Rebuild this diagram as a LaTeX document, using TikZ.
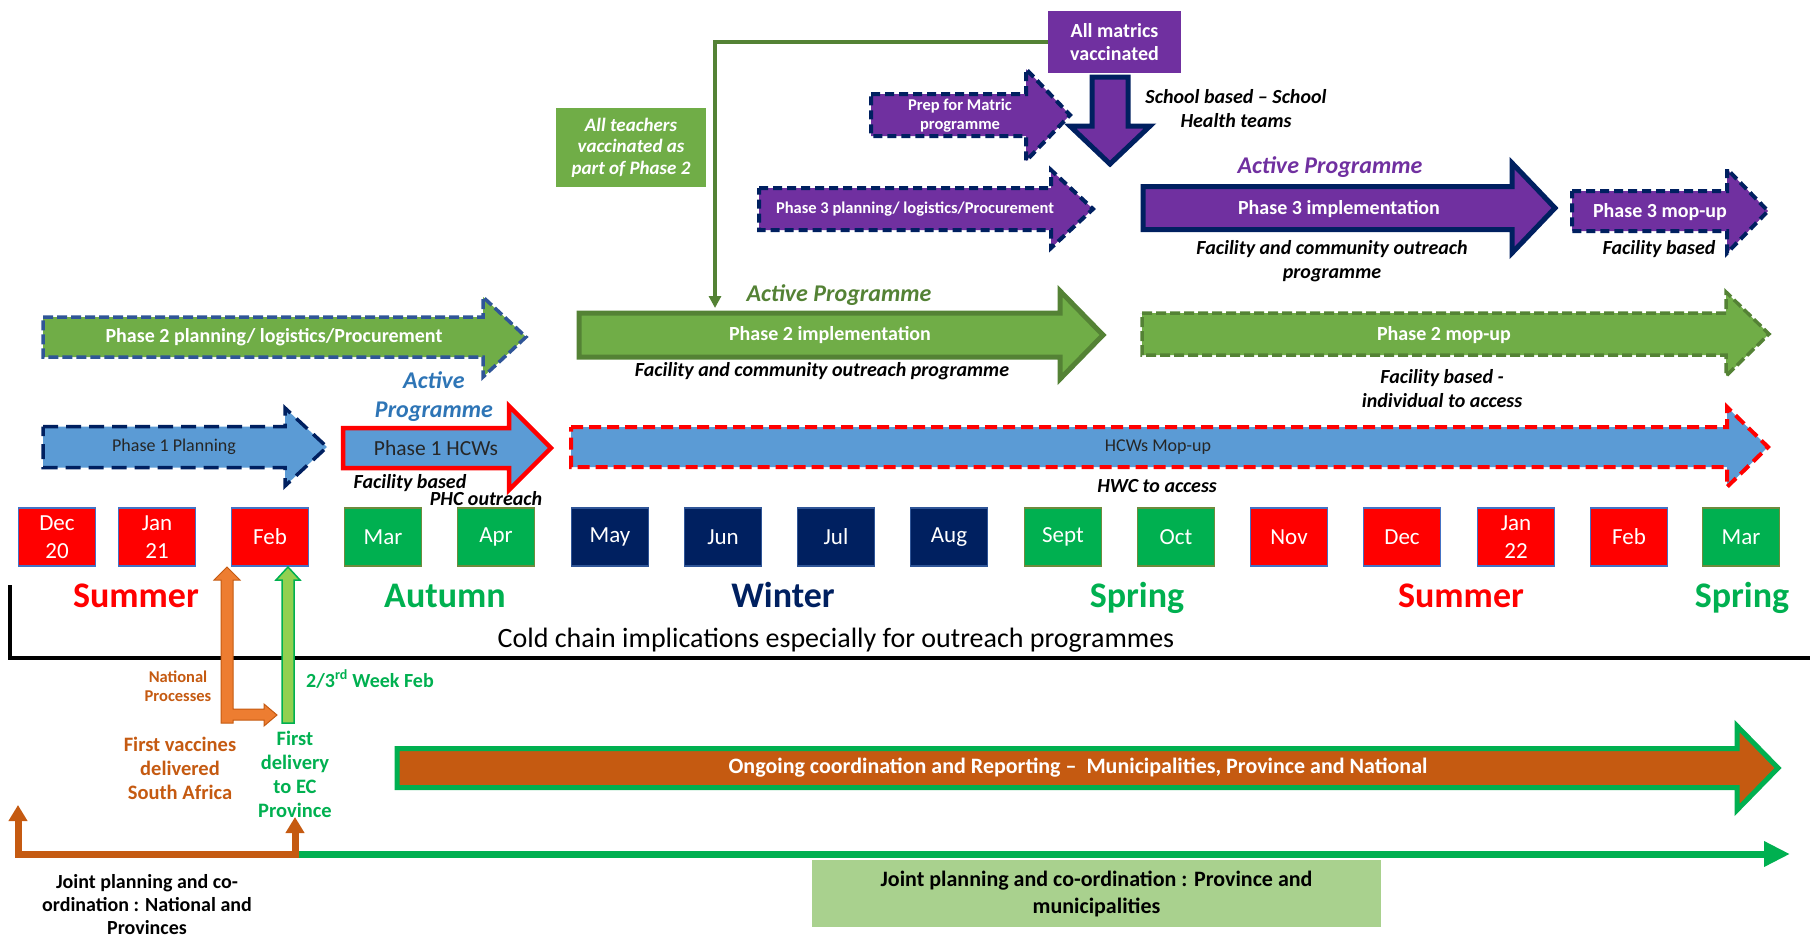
\documentclass[tikz,border=0pt]{standalone}
\usepackage{fontspec}
\setmainfont{Carlito}
\usetikzlibrary{arrows.meta}
\definecolor{mred}{HTML}{FF0000}
\definecolor{mgreen}{HTML}{00B050}
\definecolor{mnavy}{HTML}{002060}
\definecolor{redge}{HTML}{4472C4}
\definecolor{gedge}{HTML}{6E8B3D}
\definecolor{nedge}{HTML}{2F5597}
\definecolor{p1blue}{HTML}{5B9BD5}
\definecolor{p2green}{HTML}{70AD47}
\definecolor{p2dark}{HTML}{548235}
\definecolor{p2blue}{HTML}{2F5597}
\definecolor{p3purple}{HTML}{7030A0}
\definecolor{activeblue}{HTML}{2E75B6}
\definecolor{vorange}{HTML}{ED7D31}
\definecolor{orgdark}{HTML}{C55A11}
\definecolor{vlight}{HTML}{92D050}
\definecolor{palegreen}{HTML}{A9D18E}
\definecolor{txtdark}{HTML}{262626}

% block arrow: style, left x, head base x, tip x, mid y, shaft half, head half
\newcommand{\phasearrow}[7]{%
  \path[#1] (#2,#5-#6) -- (#3,#5-#6) -- (#3,#5-#7) -- (#4,#5) -- (#3,#5+#7) -- (#3,#5+#6) -- (#2,#5+#6) -- cycle;}

\begin{document}
\begin{tikzpicture}[x=1pt, y=-1pt, line join=miter,
    month/.style={rectangle, minimum width=77, minimum height=58, inner sep=0, line width=1.5, text=white, align=center, font=\fontsize{23}{27.5}\selectfont},
    season/.style={anchor=base, font=\fontsize{36}{40}\selectfont\bfseries},
    barlabel/.style={text=white, align=center, font=\fontsize{20}{24}\selectfont\bfseries},
    plainlabel/.style={text=txtdark, font=\fontsize{18}{22}\selectfont},
    note/.style={align=center, font=\fontsize{20}{24}\selectfont\bfseries\itshape},
    active/.style={align=center, font=\fontsize{24}{29}\selectfont\bfseries\itshape},
    navydash/.style={fill=p3purple, draw=mnavy, line width=4, dash pattern=on 9pt off 5pt}]
  \useasboundingbox (0,0) rectangle (1810,937);

  % Phase 3 row
  \phasearrow{navydash}{871}{1026}{1070}{115}{21}{46}
  \node[barlabel, font=\fontsize{16.5}{19}\selectfont\bfseries] (prep) at (960,115.5) {Prep for Matric\\programme};
  \phasearrow{navydash}{759}{1051}{1093}{209}{21}{39}
  \node[barlabel, font=\fontsize{16.5}{19}\selectfont\bfseries] (p3plan) at (915,209) {Phase 3 planning/ logistics/Procurement};
  \phasearrow{fill=p3purple, draw=mnavy, line width=5}{1143}{1512}{1555}{208}{21.5}{45}
  \node[barlabel] (p3impl) at (1339,209) {Phase 3 implementation};
  \node[active, text=p3purple] (p3active) at (1330,167) {Active Programme};
  \node[note] (p3note) at (1332,261) {Facility and community outreach\\programme};
  \phasearrow{navydash}{1572}{1727}{1768}{211}{20}{42}
  \node[barlabel] (p3mop) at (1660,212) {Phase 3 mop-up};
  \node[note] (p3mopnote) at (1659,249) {Facility based};

  % Matrics
  \node[fill=p3purple, minimum width=133, minimum height=62, barlabel, font=\fontsize{20}{23}\selectfont\bfseries] (matrics) at (1114.5,42) {All matrics\\vaccinated};
  \path[fill=p3purple, draw=mnavy, line width=5] (1092,77) -- (1128,77) -- (1128,126) -- (1150,126) -- (1110,164) -- (1070,126) -- (1092,126) -- cycle;
  \node[note] (school) at (1236,109) {School based – School\\Health teams};

  % Teachers
  \node[fill=p2green, minimum width=150, minimum height=79, text=white, align=center, font=\fontsize{19}{21.5}\selectfont\bfseries\itshape] (teachers) at (631,147.5) {All teachers\\vaccinated as\\part of Phase 2};
  \coordinate (p2top) at (715,308);
  \draw[p2dark, line width=3.5, -{Triangle[width=12pt,length=12pt]}] (matrics.west) -| (p2top);

  % Phase 2 row
  \phasearrow{fill=p2green, draw=p2blue, line width=3.5, dash pattern=on 10pt off 4pt}{43}{483}{526}{337}{20}{40}
  \node[barlabel] (p2plan) at (274,337) {Phase 2 planning/ logistics/Procurement};
  \phasearrow{fill=p2green, draw=p2dark, line width=5}{579}{1060}{1103}{335}{22}{44}
  \node[barlabel] (p2impl) at (830,335) {Phase 2 implementation};
  \node[active, text=p2dark] (p2active) at (839,295) {Active Programme};
  \node[note] (p2note) at (822,371) {Facility and community outreach programme};
  \phasearrow{fill=p2green, draw=p2dark, line width=3.5, dash pattern=on 10pt off 4pt}{1142}{1726}{1769}{334}{21}{42}
  \node[barlabel] (p2mop) at (1444,335) {Phase 2 mop-up};
  \node[note] (p2mopnote) at (1442,389) {Facility based -\\individual to access};

  % Phase 1 row
  \phasearrow{fill=p1blue, draw=mnavy, line width=3.5, dash pattern=on 15pt off 8pt}{43}{285}{327}{447}{20.5}{39}
  \node[plainlabel] (p1plan) at (174,447) {Phase 1 Planning};
  \phasearrow{fill=p1blue, draw=mred, line width=4.5}{343}{509}{551}{448}{20}{42}
  \node[plainlabel, font=\fontsize{21.5}{25}\selectfont] (p1hcw) at (436,448) {Phase 1 HCWs};
  \node[active, text=activeblue] (p1active) at (434,396.5) {Active\\Programme};
  \node[note] (p1fac) at (410,483) {Facility based};
  \node[note] (p1phc) at (486,499) {PHC outreach};
  \phasearrow{fill=p1blue, draw=mred, line width=4, dash pattern=on 12pt off 6pt}{571}{1727}{1768}{447}{20}{40}
  \node[plainlabel] (hcwmop) at (1158,447) {HCWs Mop-up};
  \node[note] (hwc) at (1157,486) {HWC to access};

  % Months
  \foreach \mx/\mlab/\mfill/\medge [count=\i] in {57/{Dec\\20}/mred/redge, 157/{Jan\\21}/mred/redge, 270/Feb/mred/redge,
      383/Mar/mgreen/gedge, 496/Apr/mgreen/gedge, 610/May/mnavy/nedge, 723/Jun/mnavy/nedge, 836/Jul/mnavy/nedge,
      949/Aug/mnavy/nedge, 1063/Sept/mgreen/gedge, 1176/Oct/mgreen/gedge, 1289/Nov/mred/redge, 1402/Dec/mred/redge,
      1516/{Jan\\22}/mred/redge, 1629/Feb/mred/redge, 1741/Mar/mgreen/gedge}
    \node[month, fill=\mfill, draw=\medge] (m\i) at (\mx,537) {\mlab};

  % Seasons
  \node[season, text=mred] (sum1) at (136,607) {Summer};
  \node[season, text=mgreen] (aut) at (445,607) {Autumn};
  \node[season, text=mnavy] (win) at (783,607) {Winter};
  \node[season, text=mgreen] (spr1) at (1137,607) {Spring};
  \node[season, text=mred] (sum2) at (1461,607) {Summer};
  \node[season, text=mgreen] (spr2) at (1742,607) {Spring};

  % Cold chain
  \draw[line width=3.5] (10,585) -- (10,658) -- (1810,658);
  \node[anchor=base, font=\fontsize{28}{32}\selectfont] (cold) at (836,647) {Cold chain implications especially for outreach programmes};

  % Vaccine delivery
  \path[fill=vorange, draw=orgdark, line width=1] (221,723) -- (221,580) -- (214,580) -- (227,567) -- (240,580) -- (233,580) -- (233,709) -- (264,709) -- (264,704) -- (277,715) -- (264,726) -- (264,720) -- (233,720) -- (233,723) -- cycle;
  \path[fill=vlight, draw=mgreen, line width=1.5] (282,723) -- (282,580) -- (276,580) -- (288,567) -- (300,580) -- (294,580) -- (294,723) -- cycle;
  \node[text=orgdark, align=center, font=\fontsize{16.5}{19.3}\selectfont\bfseries] (natproc) at (178,686.5) {National\\Processes};
  \node[anchor=west, text=mgreen, font=\fontsize{20}{24}\selectfont\bfseries, inner sep=0] (week) at (306,679) {2/3\textsuperscript{rd} Week Feb};
  \node[text=orgdark, align=center, font=\fontsize{20.5}{24}\selectfont\bfseries] (firstsa) at (180,768) {First vaccines\\delivered\\South Africa};
  \node[text=mgreen, align=center, font=\fontsize{20.5}{24}\selectfont\bfseries] (firstec) at (295,774) {First\\delivery\\to EC\\Province};

  % Ongoing coordination
  \phasearrow{fill=orgdark, draw=mgreen, line width=5}{397}{1737}{1778}{768}{19.5}{42}
  \node[barlabel, font=\fontsize{22}{26}\selectfont\bfseries] (ongoing) at (1078,768) {Ongoing coordination and Reporting –\ \ Municipalities, Province and National};

  % Joint planning
  \coordinate (jntL) at (18,805);
  \coordinate (jntM) at (295,854);
  \coordinate (jntR) at (295,817);
  \coordinate (jntEnd) at (1790,854);
  \draw[mgreen, line width=7, -{Triangle[width=24pt,length=26pt]}] (jntM) -- (jntEnd);
  \draw[orgdark, line width=7, {Triangle[width=18pt,length=16pt]}-{Triangle[width=18pt,length=16pt]}] (jntL) |- (jntM) -- (jntR);
  \node[align=center, font=\fontsize{20}{23}\selectfont\bfseries] (jointnat) at (147,905) {Joint planning and co-\\ordination : National and\\Provinces};
  \node[fill=palegreen, minimum width=569, minimum height=67, align=center, font=\fontsize{22}{27}\selectfont\bfseries] (jointprov) at (1096.5,893.5) {Joint planning and co-ordination : Province and\\municipalities};
\end{tikzpicture}
\end{document}
